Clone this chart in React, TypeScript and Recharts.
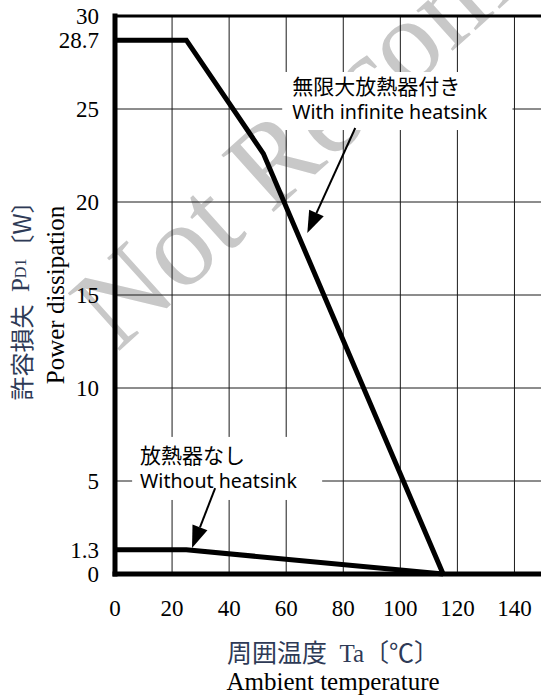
import React from 'react';
import { LineChart, Line, XAxis, YAxis, CartesianGrid, ReferenceLine, ReferenceArea, Label } from 'recharts';

// Power dissipation curves [W] vs ambient temperature [°C]
const withHeatsink = [
  { t: 0, p: 28.7 },
  { t: 25, p: 28.7 },
  { t: 52, p: 22.6 },
  { t: 115, p: 0 },
];
const withoutHeatsink = [
  { t: 0, p: 1.3 },
  { t: 25, p: 1.3 },
  { t: 115, p: 0 },
];
const xTicks = [0, 20, 40, 60, 80, 100, 120, 140];
const yTicks = [0, 1.3, 5, 10, 15, 20, 25, 28.7, 30];
const gridX = [20, 40, 60, 80, 100, 120, 140];
const gridY = [5, 10, 15, 20, 25];
const xDomain = [0, 150];
const yDomain = [0, 30];

const noteWith = { jp: '無限大放熱器付き', en: 'With infinite heatsink' };
const noteWithout = { jp: '放熱器なし', en: 'Without heatsink' };
// annotation boxes in data coordinates
const boxWith = { x1: 58.6, x2: 139.3, y1: 23.87, y2: 26.99 };
const boxWithout = { x1: 6.0, x2: 72.6, y1: 3.98, y2: 7.37 };
const arrowWith = [{ x: 84.2, y: 23.98 }, { x: 67.4, y: 18.33 }];
const arrowWithout = [{ x: 35.1, y: 4.62 }, { x: 27.0, y: 1.4 }];

const SERIF = '"Liberation Serif", "DejaVu Serif", serif';
const SANS = '"Noto Sans", "Noto Sans CJK JP", sans-serif';
const CJK = '"Noto Sans CJK JP", sans-serif';
const LABEL_COLOR = '#2e3a56';

const ArrowShape = (props: any) => {
  const { x1, y1, x2, y2 } = props;
  if ([x1, y1, x2, y2].some((v) => typeof v !== 'number' || isNaN(v))) return <g />;
  const dx = x2 - x1;
  const dy = y2 - y1;
  const len = Math.sqrt(dx * dx + dy * dy);
  const ux = dx / len;
  const uy = dy / len;
  const headLen = 22;
  const headHalf = 8;
  const bx = x2 - ux * headLen;
  const by = y2 - uy * headLen;
  const px = -uy;
  const py = ux;
  return (
    <g>
      <line x1={x1} y1={y1} x2={bx} y2={by} stroke="#000" strokeWidth={2} />
      <polygon
        points={`${x2},${y2} ${bx + px * headHalf},${by + py * headHalf} ${bx - px * headHalf},${by - py * headHalf}`}
        fill="#000"
      />
    </g>
  );
};

const makeNote = (note: { jp: string; en: string }, padX: number, jpOff: number, enOff: number) =>
  (props: any) => {
    const { x, y, width, height } = props;
    return (
      <g>
        <rect x={x} y={y} width={width} height={height} fill="#fff" stroke="none" />
        <text x={x + padX} y={y + jpOff} fontFamily={CJK} fontSize={21} fill="#000">
          {note.jp}
        </text>
        <text x={x + padX} y={y + enOff} fontFamily={SANS} fontSize={19.6} fill="#000">
          {note.en}
        </text>
      </g>
    );
  };

const XLabel = (props: any) => {
  const vb = props.viewBox || { x: 115, y: 574, width: 428, height: 125 };
  const cx = vb.x + vb.width / 2 + 4;
  return (
    <g>
      <text x={cx} y={vb.y + 88} textAnchor="middle" fontSize={25} fill={LABEL_COLOR}>
        <tspan fontFamily={CJK}>周囲温度</tspan>
        <tspan fontFamily={SERIF}>{'\u00a0\u00a0Ta'}</tspan>
        <tspan fontFamily={CJK}>〔℃〕</tspan>
      </text>
      <text x={cx} y={vb.y + 116} textAnchor="middle" fontFamily={SERIF} fontSize={25} fill="#000">
        Ambient temperature
      </text>
    </g>
  );
};

const YLabel = (props: any) => {
  const vb = props.viewBox || { x: 0, y: 16, width: 115, height: 558 };
  const cy = vb.y + vb.height / 2;
  const x1 = 20;
  const x2 = 55;
  return (
    <g>
      <text
        x={x1}
        y={cy}
        transform={`rotate(-90 ${x1} ${cy})`}
        textAnchor="middle"
        dominantBaseline="central"
        fontSize={24}
        fill={LABEL_COLOR}
      >
        <tspan fontFamily={CJK}>許容損失</tspan>
        <tspan fontFamily={SERIF} fontSize={25}>{'\u00a0\u00a0P'}</tspan>
        <tspan fontFamily={SERIF} fontSize={16}>D1</tspan>
        <tspan fontFamily={CJK}>〔W〕</tspan>
      </text>
      <text
        x={x2}
        y={cy}
        transform={`rotate(-90 ${x2} ${cy})`}
        textAnchor="middle"
        dominantBaseline="central"
        fontFamily={SERIF}
        fontSize={25}
        fill="#000"
      >
        Power dissipation
      </text>
    </g>
  );
};

export default function App() {
  return (
    <div style={{ position: 'absolute', left: 0, top: 0, width: 541, height: 699, overflow: 'hidden', background: '#fff' }}>
      <svg width={541} height={699} style={{ position: 'absolute', left: 0, top: 0 }}>
        <text
          x={117}
          y={353}
          transform="rotate(-42 117 353)"
          fontFamily={SERIF}
          fontSize={118}
          fill="#c8c8c8"
        >
          Not Recommended
        </text>
      </svg>
      <div style={{ position: 'absolute', left: 0, top: 0 }}>
        <LineChart width={560} height={699} margin={{ top: 16, right: 17, left: 0, bottom: 0 }}>
          <CartesianGrid
            horizontalValues={gridY}
            verticalValues={gridX}
            stroke="#1a1a1a"
            strokeWidth={1}
            fill="none"
          />
          <XAxis
            dataKey="t"
            type="number"
            domain={xDomain}
            ticks={xTicks}
            interval={0}
            height={125}
            tickLine={false}
            tickSize={0}
            tickMargin={26}
            axisLine={{ stroke: '#000', strokeWidth: 5, strokeLinecap: 'square' }}
            tick={{ fontFamily: SERIF, fontSize: 23, fill: '#000' }}
          >
            <Label content={XLabel} />
          </XAxis>
          <YAxis
            type="number"
            domain={yDomain}
            ticks={yTicks}
            interval={0}
            width={115}
            tickLine={false}
            tickSize={0}
            tickMargin={16}
            axisLine={{ stroke: '#000', strokeWidth: 5, strokeLinecap: 'square' }}
            tick={{ fontFamily: SERIF, fontSize: 23, fill: '#000' }}
          >
            <Label content={YLabel} />
          </YAxis>
          <ReferenceLine y={30} stroke="#000" strokeWidth={3} ifOverflow="visible" />
          <ReferenceArea
            x1={boxWith.x1}
            x2={boxWith.x2}
            y1={boxWith.y1}
            y2={boxWith.y2}
            ifOverflow="visible"
            shape={makeNote(noteWith, 10, 22.5, 47)}
          />
          <ReferenceArea
            x1={boxWithout.x1}
            x2={boxWithout.x2}
            y1={boxWithout.y1}
            y2={boxWithout.y2}
            ifOverflow="visible"
            shape={makeNote(noteWithout, 8, 26, 51)}
          />
          <Line
            data={withHeatsink}
            dataKey="p"
            type="linear"
            stroke="#000"
            strokeWidth={5}
            dot={false}
            activeDot={false}
            isAnimationActive={false}
          />
          <Line
            data={withoutHeatsink}
            dataKey="p"
            type="linear"
            stroke="#000"
            strokeWidth={5}
            dot={false}
            activeDot={false}
            isAnimationActive={false}
          />
          <ReferenceLine segment={arrowWith} shape={ArrowShape} ifOverflow="visible" />
          <ReferenceLine segment={arrowWithout} shape={ArrowShape} ifOverflow="visible" />
        </LineChart>
      </div>
    </div>
  );
}
